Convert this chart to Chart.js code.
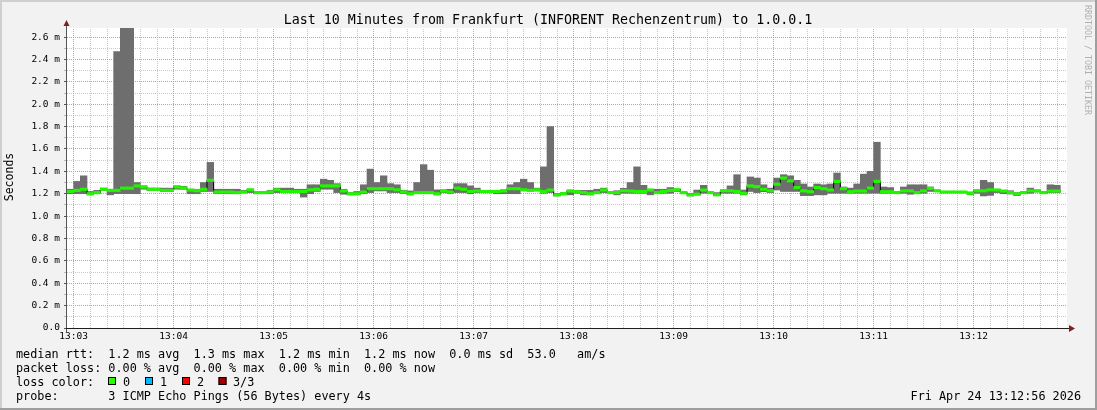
<!DOCTYPE html>
<html>
<head>
<meta charset="utf-8">
<title>Last 10 Minutes from Frankfurt to 1.0.0.1</title>
<script src="https://cdn.jsdelivr.net/npm/chart.js@4.4.1/dist/chart.umd.min.js"></script>
<style>
  html, body { margin: 0; padding: 0; background: #f2f2f2; }
  canvas { display: block; }
</style>
</head>
<body>
<canvas id="chart" width="1097" height="410"></canvas>
<script>
// rtt per 4 s step (ms), first step starts at 13:02:56
const rttMax = [
  1.24, 1.31, 1.36, 1.22, 1.23, 1.25, 1.24, 2.47, 2.68, 2.68,
  1.30, 1.27, 1.25, 1.25, 1.25, 1.25, 1.27, 1.265, 1.24, 1.24,
  1.30, 1.48, 1.24, 1.24, 1.24, 1.24, 1.23, 1.24, 1.22, 1.22,
  1.23, 1.25, 1.25, 1.25, 1.24, 1.24, 1.28, 1.28, 1.33, 1.32,
  1.29, 1.24, 1.21, 1.22, 1.28, 1.42, 1.30, 1.36, 1.29, 1.28,
  1.23, 1.225, 1.30, 1.46, 1.41, 1.235, 1.235, 1.24, 1.29, 1.29,
  1.27, 1.25, 1.225, 1.225, 1.22, 1.235, 1.28, 1.30, 1.33, 1.30,
  1.25, 1.44, 1.80, 1.204, 1.21, 1.233, 1.23, 1.23, 1.23, 1.24,
  1.25, 1.216, 1.227, 1.248, 1.30, 1.44, 1.275, 1.24, 1.24, 1.24,
  1.255, 1.24, 1.216, 1.204, 1.233, 1.275, 1.216, 1.21, 1.233, 1.27,
  1.37, 1.233, 1.35, 1.34, 1.28, 1.25, 1.34, 1.37, 1.36, 1.32,
  1.287, 1.26, 1.287, 1.28, 1.287, 1.385, 1.26, 1.25, 1.287, 1.375,
  1.40, 1.66, 1.26, 1.255, 1.22, 1.26, 1.28, 1.28, 1.28, 1.26,
  1.233, 1.22, 1.22, 1.22, 1.22, 1.215, 1.233, 1.32, 1.30, 1.24,
  1.23, 1.227, 1.21, 1.22, 1.25, 1.233, 1.22, 1.28, 1.275
];
const rttMedian = [
  1.22, 1.23, 1.24, 1.20, 1.21, 1.24, 1.23, 1.23, 1.25, 1.25,
  1.27, 1.26, 1.24, 1.24, 1.23, 1.23, 1.26, 1.25, 1.233, 1.227,
  1.24, 1.32, 1.215, 1.215, 1.215, 1.21, 1.215, 1.235, 1.21, 1.21,
  1.215, 1.235, 1.22, 1.22, 1.22, 1.22, 1.235, 1.24, 1.27, 1.27,
  1.27, 1.225, 1.20, 1.20, 1.215, 1.245, 1.245, 1.245, 1.245, 1.235,
  1.215, 1.20, 1.21, 1.21, 1.21, 1.20, 1.225, 1.215, 1.25, 1.24,
  1.22, 1.225, 1.22, 1.22, 1.22, 1.225, 1.245, 1.245, 1.235, 1.23,
  1.235, 1.22, 1.233, 1.19, 1.20, 1.224, 1.218, 1.21, 1.20, 1.21,
  1.233, 1.21, 1.21, 1.227, 1.224, 1.22, 1.22, 1.233, 1.21, 1.22,
  1.23, 1.236, 1.21, 1.19, 1.196, 1.233, 1.21, 1.19, 1.227, 1.227,
  1.22, 1.204, 1.27, 1.263, 1.24, 1.227, 1.285, 1.34, 1.315, 1.255,
  1.226, 1.218, 1.255, 1.245, 1.233, 1.31, 1.245, 1.218, 1.224, 1.224,
  1.25, 1.31, 1.218, 1.218, 1.21, 1.226, 1.226, 1.21, 1.226, 1.248,
  1.226, 1.215, 1.215, 1.215, 1.215, 1.204, 1.226, 1.226, 1.235, 1.233,
  1.224, 1.21, 1.198, 1.21, 1.226, 1.226, 1.21, 1.224, 1.224
];
const rttMin = [
  1.20, 1.20, 1.20, 1.19, 1.20, 1.23, 1.19, 1.20, 1.20, 1.20,
  1.20, 1.24, 1.23, 1.23, 1.22, 1.22, 1.24, 1.24, 1.20, 1.20,
  1.22, 1.22, 1.20, 1.20, 1.20, 1.20, 1.21, 1.21, 1.20, 1.20,
  1.20, 1.21, 1.21, 1.21, 1.21, 1.17, 1.20, 1.22, 1.24, 1.24,
  1.21, 1.195, 1.19, 1.19, 1.20, 1.21, 1.225, 1.225, 1.21, 1.21,
  1.20, 1.19, 1.205, 1.205, 1.205, 1.19, 1.21, 1.20, 1.21, 1.21,
  1.20, 1.21, 1.215, 1.215, 1.20, 1.20, 1.20, 1.20, 1.23, 1.23,
  1.225, 1.204, 1.21, 1.18, 1.19, 1.19, 1.204, 1.19, 1.19, 1.20,
  1.21, 1.204, 1.19, 1.204, 1.204, 1.204, 1.204, 1.19, 1.204, 1.204,
  1.204, 1.22, 1.204, 1.18, 1.19, 1.204, 1.204, 1.185, 1.204, 1.204,
  1.204, 1.19, 1.22, 1.21, 1.218, 1.21, 1.233, 1.22, 1.22, 1.22,
  1.183, 1.183, 1.19, 1.19, 1.204, 1.204, 1.204, 1.204, 1.204, 1.204,
  1.204, 1.204, 1.204, 1.204, 1.204, 1.204, 1.195, 1.204, 1.204, 1.22,
  1.22, 1.21, 1.21, 1.21, 1.21, 1.19, 1.204, 1.18, 1.185, 1.21,
  1.20, 1.197, 1.183, 1.20, 1.204, 1.215, 1.204, 1.21, 1.21
];

const stepSeconds = 4;
const windowSeconds = 600;
const minuteTickSeconds = [4, 64, 124, 184, 244, 304, 364, 424, 484, 544];
const minuteLabels = ['13:03', '13:04', '13:05', '13:06', '13:07', '13:08', '13:09', '13:10', '13:11', '13:12'];
const yGridValues = [0, 0.1, 0.2, 0.3, 0.4, 0.5, 0.6, 0.7, 0.8, 0.9, 1.0, 1.1, 1.2, 1.3,
  1.4, 1.5, 1.6, 1.7, 1.8, 1.9, 2.0, 2.1, 2.2, 2.3, 2.4, 2.5, 2.6];
const yAxisMax = 2.681;

const titleText = 'Last 10 Minutes from Frankfurt (INFORENT Rechenzentrum) to 1.0.0.1';
const legendLines = [
  'median rtt:  1.2 ms avg  1.3 ms max  1.2 ms min  1.2 ms now  0.0 ms sd  53.0   am/s',
  'packet loss: 0.00 % avg  0.00 % max  0.00 % min  0.00 % now',
  'loss color:',
  'probe:       3 ICMP Echo Pings (56 Bytes) every 4s'
];
const lossLabels = ['0', '1', '2', '3/3'];
const lossColors = ['#26ff00', '#00b8ff', '#ff0000', '#a00000'];
const stampText = 'Fri Apr 24 13:12:56 2026';
const creditText = 'RRDTOOL / TOBI OETIKER';

const MONO = '"DejaVu Sans Mono", monospace';
const MAJOR_GRID = '#ec8c8c';
const MINOR_GRID = '#c8c8c8';
const medianBand = 0.011; // half thickness of the green median bar, ms

const smoke = rttMax.map((v, i) => ({ x: i * stepSeconds + stepSeconds / 2, y: [rttMin[i], v] }));
const medianBars = rttMedian.map((v, i) => ({ x: i * stepSeconds + stepSeconds / 2, y: [v - medianBand, v + medianBand] }));
const medianLine = rttMedian.map((v, i) => ({ x: i * stepSeconds, y: v }));
medianLine.push({ x: rttMedian.length * stepSeconds, y: rttMedian[rttMedian.length - 1] });

function minorSeconds() {
  const out = [];
  for (let s = minuteTickSeconds[0]; s < windowSeconds; s += 10) out.push(s);
  return out;
}

const frame = {
  id: 'frame',
  beforeDraw(chart) {
    const { ctx, chartArea: a, width, height } = chart;
    ctx.save();
    ctx.fillStyle = '#f2f2f2';
    ctx.fillRect(0, 0, width, height);
    ctx.fillStyle = '#cfcfcf';
    ctx.fillRect(0, 0, width, 2);
    ctx.fillRect(0, 0, 2, height);
    ctx.fillStyle = '#9e9e9e';
    ctx.fillRect(0, height - 2, width, 2);
    ctx.fillRect(width - 2, 0, 2, height);
    ctx.fillStyle = '#ffffff';
    ctx.fillRect(a.left, a.top, a.right - a.left, a.bottom - a.top);
    ctx.restore();
  },
  beforeDatasetsDraw(chart) {
    // dotted rrdtool style grid, minor grey then major red
    const { ctx, chartArea: a, scales } = chart;
    const xs = scales.x, ys = scales.y;
    ctx.save();
    ctx.lineWidth = 1;
    ctx.setLineDash([1, 1]);
    const vline = (s, color) => {
      const px = Math.floor(xs.getPixelForValue(s)) + 0.5;
      ctx.strokeStyle = color;
      ctx.beginPath();
      ctx.moveTo(px, a.bottom);
      ctx.lineTo(px, a.top);
      ctx.stroke();
    };
    const hline = (v, color) => {
      const py = Math.floor(ys.getPixelForValue(v)) + 0.5;
      ctx.strokeStyle = color;
      ctx.beginPath();
      ctx.moveTo(a.left, py);
      ctx.lineTo(a.right, py);
      ctx.stroke();
    };
    minorSeconds().filter(s => !minuteTickSeconds.includes(s)).forEach(s => vline(s, MINOR_GRID));
    yGridValues.forEach((v, i) => { if (i % 2) hline(v, MINOR_GRID); });
    minuteTickSeconds.forEach(s => vline(s, MAJOR_GRID));
    yGridValues.forEach((v, i) => { if (!(i % 2)) hline(v, MAJOR_GRID); });
    ctx.restore();
  },
  afterDraw(chart) {
    const { ctx, chartArea: a } = chart;
    ctx.save();

    // axes
    ctx.lineWidth = 1;
    ctx.strokeStyle = '#555';
    ctx.beginPath();
    ctx.moveTo(a.left - 0.5, a.bottom + 5);
    ctx.lineTo(a.left - 0.5, a.top - 3);
    ctx.stroke();
    ctx.strokeStyle = '#1f1f1f';
    ctx.beginPath();
    ctx.moveTo(a.left - 1, a.bottom + 0.5);
    ctx.lineTo(a.right + 3, a.bottom + 0.5);
    ctx.stroke();

    ctx.fillStyle = '#801f1f';
    ctx.beginPath();
    ctx.moveTo(a.left - 3.5, a.top - 2);
    ctx.lineTo(a.left + 2.5, a.top - 2);
    ctx.lineTo(a.left - 0.5, a.top - 8);
    ctx.closePath();
    ctx.fill();
    ctx.beginPath();
    ctx.moveTo(a.right + 2, a.bottom - 3);
    ctx.lineTo(a.right + 2, a.bottom + 4);
    ctx.lineTo(a.right + 8, a.bottom + 0.5);
    ctx.closePath();
    ctx.fill();

    // title
    ctx.fillStyle = '#000';
    ctx.font = '13.3px ' + MONO;
    ctx.textAlign = 'center';
    ctx.textBaseline = 'alphabetic';
    ctx.fillText(titleText, 548, 24);

    // y axis title
    ctx.save();
    ctx.translate(10, 177);
    ctx.rotate(-Math.PI / 2);
    ctx.font = '11.5px ' + MONO;
    ctx.textBaseline = 'middle';
    ctx.fillText('Seconds', 0, 0);
    ctx.restore();

    // credit
    ctx.save();
    ctx.translate(1087.5, 5);
    ctx.rotate(Math.PI / 2);
    ctx.font = '8.3px ' + MONO;
    ctx.fillStyle = '#b0b0b0';
    ctx.textAlign = 'left';
    ctx.textBaseline = 'middle';
    ctx.fillText(creditText, 0, 0);
    ctx.restore();

    // legend
    ctx.font = '11.8px ' + MONO;
    ctx.textAlign = 'left';
    ctx.fillStyle = '#000';
    const baselines = [357.5, 371.6, 385.6, 399.7];
    legendLines.forEach((line, i) => ctx.fillText(line, 16, baselines[i]));

    const boxX = [108, 145, 182, 218.5];
    const labelX = [123, 160, 197, 233];
    lossColors.forEach((c, i) => {
      ctx.fillStyle = c;
      ctx.fillRect(boxX[i], 377, 8, 8);
      ctx.strokeStyle = '#000';
      ctx.strokeRect(boxX[i] + 0.5, 377.5, 7, 7);
      ctx.fillStyle = '#000';
      ctx.fillText(lossLabels[i], labelX[i], baselines[2]);
    });

    ctx.textAlign = 'right';
    ctx.fillText(stampText, 1081, baselines[3]);
    ctx.restore();
  }
};

new Chart(document.getElementById('chart'), {
  type: 'bar',
  data: {
    datasets: [
      {
        type: 'bar',
        data: smoke,
        backgroundColor: '#6e6e6e',
        borderWidth: 0,
        barPercentage: 1,
        categoryPercentage: 1,
        grouped: false,
        order: 3
      },
      {
        type: 'line',
        data: medianLine,
        borderColor: '#000',
        borderWidth: 1,
        pointRadius: 0,
        stepped: true,
        fill: false,
        order: 2
      },
      {
        type: 'bar',
        data: medianBars,
        backgroundColor: '#22f500',
        borderWidth: 0,
        barPercentage: 1,
        categoryPercentage: 1,
        grouped: false,
        order: 1
      }
    ]
  },
  options: {
    responsive: false,
    devicePixelRatio: 1,
    animation: false,
    layout: { padding: { left: 0, right: 30, top: 28, bottom: 62 } },
    plugins: {
      legend: { display: false },
      tooltip: { enabled: false },
      title: { display: false }
    },
    scales: {
      x: {
        type: 'linear',
        min: 0,
        max: windowSeconds,
        offset: false,
        afterBuildTicks(scale) { scale.ticks = minuteTickSeconds.map(s => ({ value: s })); },
        afterFit(scale) { scale.height = 20; },
        ticks: {
          autoSkip: false,
          maxRotation: 0,
          padding: 3,
          color: '#000',
          font: { family: MONO, size: 9.5 },
          callback: (v) => {
            const k = minuteTickSeconds.indexOf(v);
            return k >= 0 ? minuteLabels[k] : '';
          }
        },
        grid: { drawOnChartArea: false, drawTicks: false },
        border: { display: false }
      },
      y: {
        min: 0,
        max: yAxisMax,
        afterBuildTicks(scale) { scale.ticks = yGridValues.map(v => ({ value: v })); },
        afterFit(scale) { scale.width = 67; },
        ticks: {
          autoSkip: false,
          padding: 4,
          color: '#000',
          font: { family: MONO, size: 9.5 },
          callback: (v, i) => i % 2 ? '' : (v === 0 ? '0.0' : v.toFixed(1) + ' m')
        },
        grid: {
          drawOnChartArea: false,
          tickLength: 3,
          tickColor: (c) => c.index % 2 ? '#bbb' : '#555'
        },
        border: { display: false }
      }
    }
  },
  plugins: [frame]
});
</script>
</body>
</html>
